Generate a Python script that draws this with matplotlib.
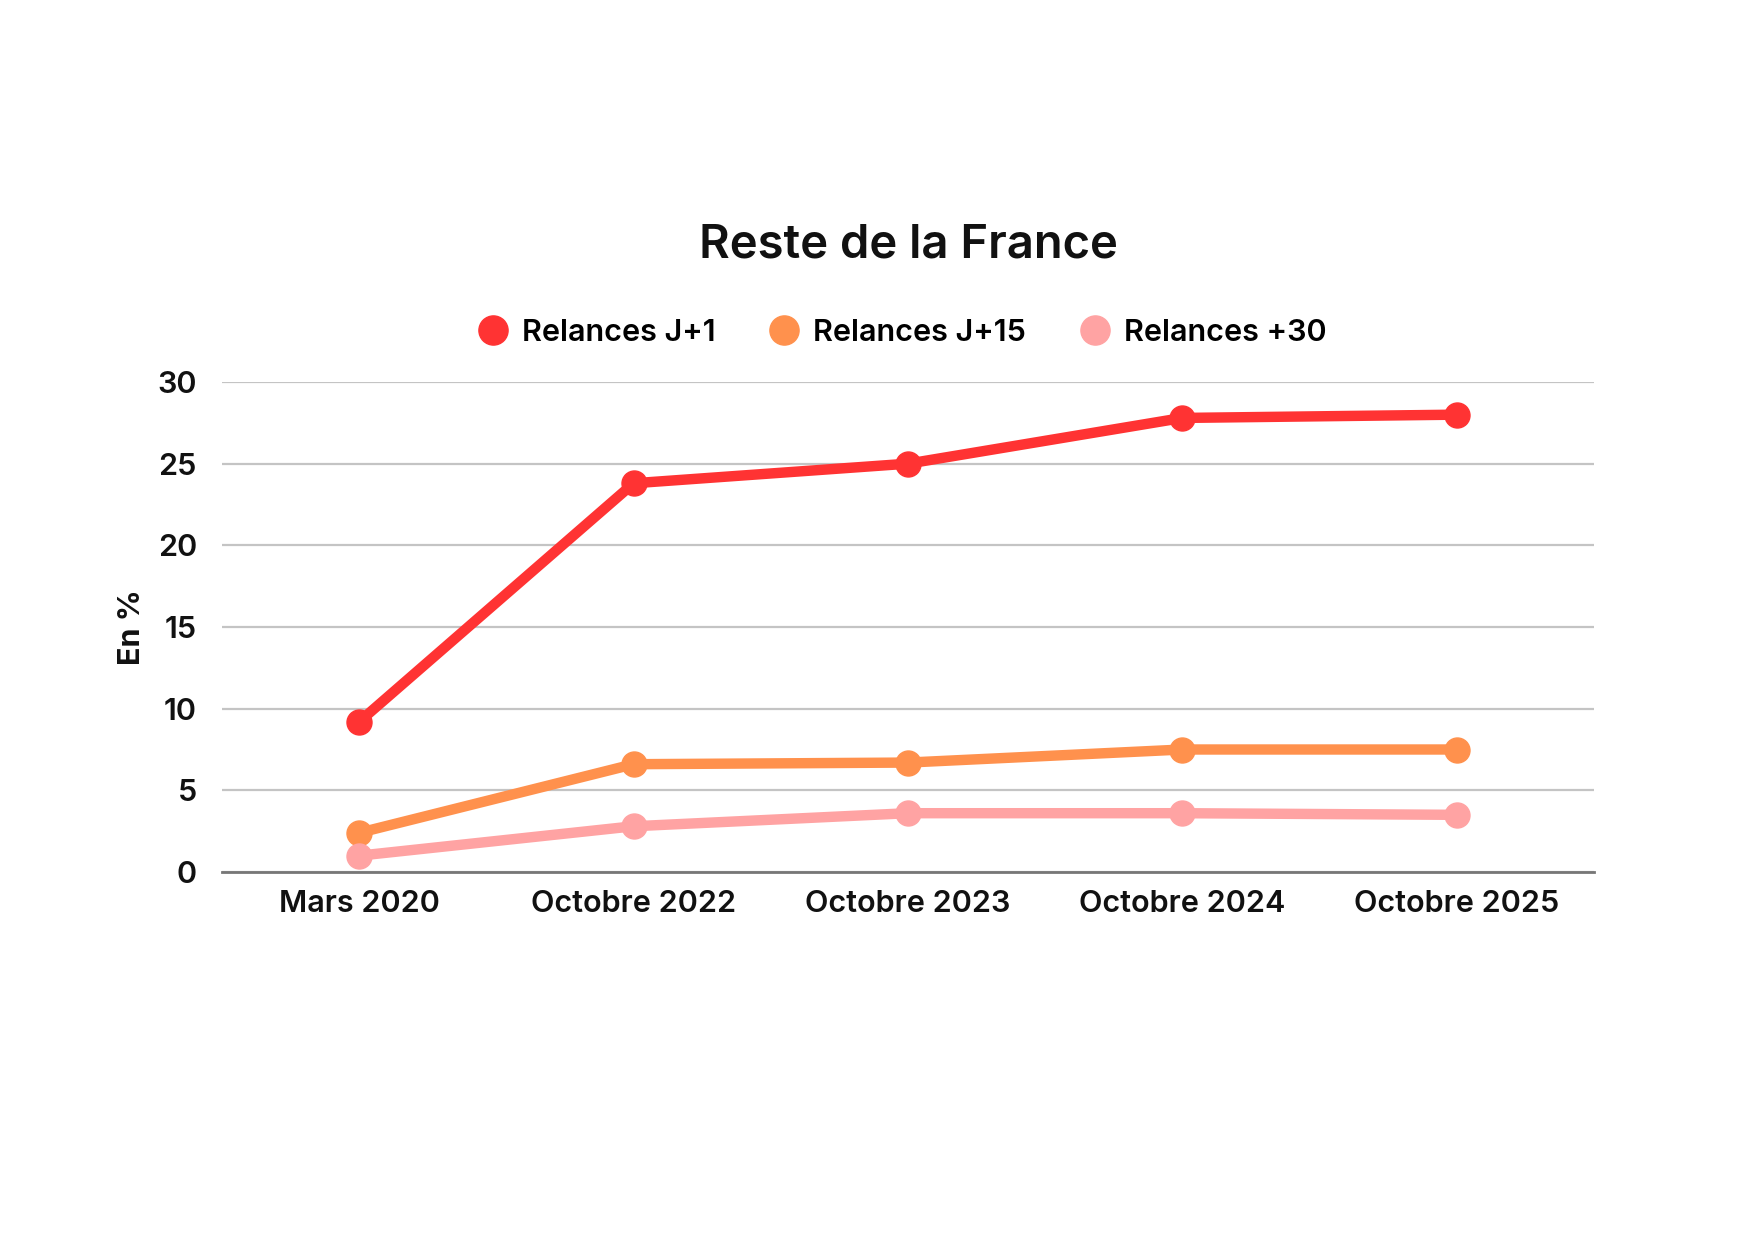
import matplotlib
matplotlib.use("Agg")
import matplotlib.pyplot as plt
from matplotlib.lines import Line2D

categories = ["Mars 2020", "Octobre 2022", "Octobre 2023", "Octobre 2024", "Octobre 2025"]
relances_j1 = [9.2, 23.8, 25.0, 27.8, 28.0]
relances_j15 = [2.4, 6.6, 6.7, 7.5, 7.5]
relances_30 = [1.0, 2.8, 3.6, 3.6, 3.5]
series_names = ["Relances J+1", "Relances J+15", "Relances +30"]
yticks = [0, 5, 10, 15, 20, 25, 30]

colors = ["#FF3333", "#FF914D", "#FFA3A3"]

plt.rcParams['font.family'] = ['Inter', 'DejaVu Sans']

W, H = 1748, 1240
fig = plt.figure(figsize=(W / 100, H / 100), dpi=100)
left, right, top, bottom = 222, 1594, 382, 872
ax = fig.add_axes([left / W, 1 - bottom / H, (right - left) / W, (bottom - top) / H])

x = list(range(len(categories)))
for vals, c, name in zip([relances_j1, relances_j15, relances_30], colors, series_names):
    ax.plot(x, vals, color=c, lw=7.5, marker='o', markersize=18, label=name,
            solid_capstyle='round', clip_on=False, zorder=3)

ax.set_xlim(-0.5, len(categories) - 0.5)
ax.set_ylim(0, 30)
ax.set_yticks(yticks)
ax.set_xticks(x)
ax.set_xticklabels(categories)
for s in ['top', 'right', 'left']:
    ax.spines[s].set_visible(False)
ax.spines['bottom'].set_color('#777777')
ax.spines['bottom'].set_linewidth(2)
ax.spines['bottom'].set_zorder(2)
ax.grid(axis='y', color='#C4C4C4', lw=1.6, zorder=1)
ax.set_axisbelow(True)
ax.tick_params(axis='both', length=0, labelsize=22, colors='#111111')
ax.tick_params(axis='y', pad=18)
ax.tick_params(axis='x', pad=13)
for lab in ax.get_xticklabels() + ax.get_yticklabels():
    lab.set_fontweight('semibold')

ax.set_ylabel("En %", fontsize=22, fontweight='bold', color='#111111', labelpad=8)

fig.text(908 / W, 1 - 246 / H, "Reste de la France", ha='center', va='center',
         fontsize=34, fontweight='semibold', color='#111111')

handles = [Line2D([], [], ls='none', marker='o', markersize=21, color=c) for c in colors]
fig.legend(handles, series_names, loc='center', bbox_to_anchor=(902 / W, 1 - 333 / H),
           ncol=3, frameon=False, handletextpad=0.45, columnspacing=1.75,
           handlelength=1.0, prop={'weight': 'semibold', 'size': 22})

fig.savefig("out.png", dpi=100, facecolor='white')
